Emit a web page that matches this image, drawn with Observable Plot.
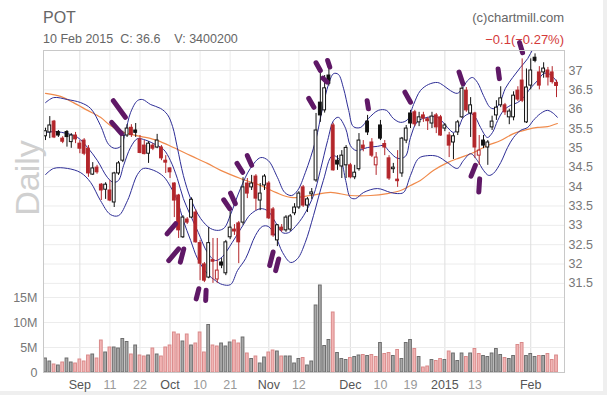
<!DOCTYPE html>
<html><head><meta charset="utf-8">
<script src="https://cdn.jsdelivr.net/npm/d3@7"></script>
<script src="https://cdn.jsdelivr.net/npm/@observablehq/plot@0.6"></script>
<style>
body{margin:0;background:#fff;}
#wrap{position:relative;width:607px;height:395px;background:#efefef;overflow:hidden;font-family:"Liberation Sans",Arial,sans-serif}
#inner{position:absolute;left:0;top:0;width:603px;height:391px;background:#fff}
#wrap svg{position:absolute;left:0;top:0}
.t{position:absolute;white-space:nowrap;color:#666;line-height:1}
</style></head><body>
<div id="wrap"><div id="inner"></div>
<div class="t" style="left:43px;top:10px;font-size:16px">POT</div>
<div class="t" style="left:43px;top:33px;font-size:12.5px">10 Feb 2015&nbsp; C: 36.6 &nbsp;&nbsp; V: 3400200</div>
<div class="t" style="right:43px;top:11px;font-size:13px">(c)chartmill.com</div>
<div class="t" style="right:43px;top:33px;font-size:13px;color:#d43a3a">−0.1(−0.27%)</div>
<div class="t" style="left:27px;top:178px;font-size:34px;color:#d0d0d0;transform:translate(-50%,-50%) rotate(-90deg)">Daily</div>
</div>
<script>
// ---- data ----
const open = [35.30,35.40,35.68,35.41,35.24,35.41,35.15,35.32,35.11,35.19,34.98,34.31,34.49,34.05,33.92,33.90,33.59,34.34,34.67,35.32,35.52,35.45,35.22,35.06,34.85,35.06,35.01,35.01,34.67,34.47,34.08,33.77,32.69,33.15,33.20,33.33,32.54,31.99,31.65,32.10,31.60,32.04,31.76,32.69,32.89,33.05,33.07,34.08,33.98,34.26,33.64,34.03,34.08,33.41,32.61,32.94,32.87,32.89,33.31,33.46,33.98,33.51,33.80,34.16,36.17,35.97,36.87,35.58,34.67,34.52,34.55,34.55,34.24,34.45,35.06,35.68,35.14,34.55,35.58,35.10,34.73,34.45,34.18,34.34,35.19,35.89,35.92,35.66,35.84,35.74,35.63,35.84,35.79,35.50,35.32,35.14,35.40,35.79,36.48,35.89,35.89,34.80,35.19,35.01,35.53,35.84,36.10,36.10,35.79,35.79,36.48,36.74,35.66,36.61,37.33,36.95,36.95,37.00,36.95,36.68];
const high = [35.51,35.81,35.71,35.45,35.29,35.45,35.37,35.40,35.19,35.24,35.06,34.62,34.55,34.08,34.10,34.16,34.37,34.65,35.43,35.60,35.60,35.63,35.32,35.19,35.16,35.11,35.35,35.06,34.80,34.49,34.10,33.80,33.25,33.20,33.71,33.40,32.61,32.04,32.94,32.66,32.66,32.14,32.61,33.46,33.02,33.10,34.23,34.21,34.29,34.31,34.08,34.31,34.13,33.46,33.02,33.02,33.25,33.28,33.56,33.87,34.03,33.72,33.95,35.89,36.93,36.87,37.05,35.64,34.80,34.93,35.06,34.60,34.55,35.37,35.19,35.84,35.24,34.88,35.71,35.19,34.80,34.60,34.93,35.27,35.58,35.97,35.97,35.92,35.92,35.79,35.92,35.89,35.84,35.63,35.40,35.37,35.71,36.61,36.56,36.30,35.92,35.32,35.32,35.19,35.82,36.22,36.58,36.15,36.00,36.45,36.58,37.30,37.04,37.30,37.43,37.10,37.20,37.08,37.10,36.75];
const low = [35.19,35.24,35.24,35.27,35.11,35.02,34.99,35.11,34.85,34.80,34.24,34.29,34.32,33.64,33.67,33.61,33.46,34.29,34.62,35.27,35.27,35.27,34.85,34.82,34.60,34.93,34.98,34.67,34.34,34.21,33.20,32.66,32.66,33.02,33.18,32.54,31.57,31.52,31.62,31.50,31.50,31.88,31.70,32.63,32.74,32.01,33.00,33.69,33.90,33.38,33.38,33.90,33.15,32.69,32.45,32.82,32.82,32.84,33.25,33.41,33.46,33.33,33.67,34.11,35.66,35.90,36.60,34.40,34.42,34.21,34.21,34.20,34.18,34.40,34.90,35.32,34.75,34.29,35.19,34.80,34.16,34.34,33.98,34.24,35.11,35.50,35.55,35.55,35.66,35.45,35.50,35.37,35.30,35.42,34.75,34.70,35.32,35.76,35.92,35.27,34.73,34.55,34.98,34.55,35.45,35.71,36.04,35.84,35.60,35.70,36.20,36.17,35.63,36.50,37.20,36.50,36.80,36.60,36.65,36.30];
const close = [35.43,35.58,35.27,35.32,35.16,35.28,35.32,35.22,34.98,34.85,34.34,34.47,34.37,33.90,34.05,33.64,34.34,34.60,35.32,35.50,35.33,35.39,34.87,34.84,35.11,34.98,35.19,34.73,34.62,34.37,33.64,32.87,33.20,33.07,33.66,32.56,32.01,31.57,32.54,32.06,31.83,31.96,32.56,32.94,32.84,32.56,33.98,33.82,34.08,33.69,33.82,34.26,33.18,32.74,33.00,32.87,33.20,33.23,33.46,33.82,33.51,33.67,33.85,35.45,35.84,36.54,36.66,34.42,34.57,34.80,35.00,34.24,34.36,35.19,34.98,35.40,34.80,34.75,35.24,35.01,34.21,34.49,34.14,35.24,35.50,35.63,35.61,35.79,35.76,35.69,35.81,35.53,35.32,35.58,35.06,35.30,35.66,36.53,35.97,36.10,35.01,34.93,35.06,35.14,35.68,36.04,36.28,35.92,35.94,36.35,36.25,36.22,36.56,37.00,37.25,36.61,37.05,36.82,36.70,36.60];
const volumeM = [2.8,2.2,1.6,1.4,2.0,2.8,2.0,1.8,2.6,2.2,3.4,3.6,2.8,6.4,4.0,5.0,5.0,4.8,6.7,6.1,3.6,5.4,3.4,3.2,3.4,4.8,3.6,3.2,5.0,5.4,8.0,7.6,6.2,7.6,5.4,5.8,8.0,4.0,9.5,5.4,5.2,5.8,5.2,6.0,6.4,5.8,7.0,3.8,2.7,3.2,1.8,3.0,4.0,4.4,4.2,3.2,3.2,3.2,1.8,2.7,2.9,1.4,2.2,13.4,17.4,5.3,6.5,12.0,3.9,2.7,2.5,2.9,3.1,3.4,3.5,3.3,3.5,3.1,5.9,3.7,3.9,3.3,4.5,2.7,5.9,6.5,4.7,3.1,1.0,1.2,2.5,2.3,2.7,2.5,4.2,3.8,2.3,3.8,3.1,3.8,4.7,3.7,3.3,3.1,3.8,4.7,3.5,2.9,2.7,3.3,5.5,5.9,3.3,3.7,3.1,3.3,3.3,3.7,2.5,3.4];

// Bollinger bands and moving average: [trading-day index, price]
const upperBand = [[0,36.17],[1.9,36.30],[5.1,36.25],[8.2,36.17],[10.5,36.02],[12.8,35.58],[14.7,35.09],[16.1,34.99],[17.5,35.04],[18.6,35.40],[19.8,35.91],[21.4,36.22],[22.6,36.25],[24.5,36.12],[26.8,36.02],[28.4,35.86],[29.6,35.55],[30.7,35.01],[32.1,34.29],[33.8,33.69],[36.1,33.18],[38.4,32.92],[40.3,32.87],[41.7,32.94],[43.1,33.28],[45.4,33.95],[47.7,34.47],[50.1,34.75],[51.9,34.67],[54.0,34.24],[55.7,33.85],[57.3,33.77],[58.7,33.90],[60.5,34.36],[62.9,35.19],[64.5,36.02],[65.9,36.64],[67.1,36.92],[68.2,36.90],[69.4,36.54],[70.6,35.97],[71.7,35.55],[73.4,35.53],[75.2,35.76],[77.5,35.97],[79.4,35.97],[81.0,35.76],[82.7,35.66],[84.3,35.73],[85.7,36.12],[87.3,36.48],[89.2,36.64],[91.3,36.69],[92.7,36.61],[94.3,36.48],[95.9,36.41],[97.1,36.54],[98.3,36.74],[99.4,36.82],[100.6,36.69],[102.0,36.35],[103.6,36.04],[104.8,36.02],[106.0,36.22],[107.1,36.54],[108.8,36.82],[110.6,37.08],[112.3,37.31],[113.6,37.57],[115.3,37.78],[117,37.92],[119.2,38.03]];
const middleBand = [[0,35.40],[2.3,35.42],[5.1,35.37],[7.5,35.27],[9.8,35.01],[12.1,34.67],[14.4,34.24],[15.8,34.11],[17.0,34.16],[18.2,34.55],[19.8,35.01],[21.4,35.24],[22.8,35.22],[25.2,35.11],[27.5,34.96],[29.1,34.67],[30.7,34.21],[32.1,33.69],[33.8,33.25],[35.6,32.81],[37.7,32.30],[39.6,32.09],[41.2,32.19],[43.5,32.56],[46.1,33.02],[47.7,33.28],[50.1,33.43],[51.9,33.36],[53.6,33.07],[55.2,32.81],[56.6,32.81],[58.2,32.97],[60.1,33.25],[62.4,33.77],[64.0,34.42],[65.7,35.19],[67.1,35.71],[68.2,35.79],[69.9,35.50],[71.0,35.06],[72.4,34.93],[75.0,35.01],[77.3,35.04],[78.7,35.06],[80.3,34.88],[82.0,34.73],[83.8,34.78],[85.0,35.27],[86.6,35.68],[89.0,35.79],[91.3,35.79],[93.6,35.53],[95.0,35.40],[96.2,35.53],[97.3,35.79],[99.0,35.89],[100.1,35.79],[101.3,35.53],[102.9,35.27],[104.1,35.40],[105.3,35.71],[106.7,35.97],[108.3,36.10],[109.9,36.17],[111.3,36.30],[112.9,36.54],[114.6,36.74],[116.0,36.92],[117.1,36.92],[118.3,36.82],[119.2,36.69]];
const lowerBand = [[0,34.31],[1.9,34.47],[5.1,34.47],[8.2,34.36],[10.5,34.11],[12.8,33.64],[15.1,33.28],[17.0,33.25],[19.1,33.64],[21.4,34.31],[22.8,34.47],[25.2,34.42],[27.5,34.26],[29.1,34.00],[30.7,33.64],[32.1,33.12],[33.8,32.61],[35.4,32.14],[37.7,31.75],[39.6,31.57],[41.2,31.47],[43.1,31.47],[44.7,31.83],[46.6,32.14],[48.9,32.74],[50.5,32.97],[51.9,32.97],[53.6,32.71],[55.2,32.30],[57.1,32.04],[58.7,32.14],[60.5,32.56],[62.4,33.25],[64.7,34.16],[66.8,34.80],[68.7,34.67],[69.9,34.16],[71.0,33.72],[72.2,33.69],[74.1,33.85],[77.3,33.95],[80.3,33.85],[82.0,33.82],[83.4,33.85],[85.0,34.29],[86.9,34.73],[89.0,34.80],[91.3,34.78],[93.6,34.62],[95.9,34.47],[97.3,34.67],[99.0,34.85],[100.6,34.67],[102.0,34.42],[103.2,34.29],[104.3,34.34],[106.0,34.62],[107.6,35.01],[109.0,35.27],[110.6,35.45],[112.3,35.53],[113.6,35.71],[115.3,35.89],[116.9,35.97],[118.3,35.89],[119.2,35.79]];
const movingAvg = [[0,36.41],[3.5,36.33],[6.5,36.17],[9.8,35.97],[12.8,35.79],[15.1,35.58],[18.2,35.40],[22.1,35.30],[26.1,35.19],[29.8,35.01],[33.8,34.80],[37.7,34.60],[40.8,34.42],[45.4,34.21],[50.1,34.03],[53.6,33.85],[57.1,33.72],[61.7,33.77],[66.4,33.85],[71.0,33.77],[75.7,33.77],[79.6,33.82],[82.7,33.90],[85.0,34.03],[87.3,34.16],[90.4,34.42],[93.6,34.62],[96.6,34.75],[99.7,34.88],[102.9,35.06],[106.0,35.19],[109.0,35.37],[112.3,35.48],[114.6,35.53],[116.9,35.55],[119.2,35.63]];
// signal markers: [index1, price1, index2, price2]
const signals = [[15.8,36.22,18.6,35.79],[15.4,35.66,17.7,35.37],[47.0,34.80,48.0,34.55],[44.6,34.60,45.9,34.37],[43.1,33.83,44.2,33.56],[41.5,33.66,42.9,33.43],[30.3,33.04,28.3,32.78],[31.0,32.39,28.7,32.09],[32.2,32.39,31.4,32.05],[35.7,31.36,35.1,31.10],[37.4,31.32,37.3,31.06],[53.0,32.31,52.2,31.96],[54.3,32.13,53.6,31.83],[61.3,36.28,62.5,36.05],[63.0,37.20,64.0,37.00],[64.6,36.80,65.6,36.70],[65.7,37.26,66.2,37.09],[74.9,36.22,75.2,36.01],[83.7,36.44,85.0,36.18],[96.3,36.96,97.2,36.66],[105.4,37.04,105.7,36.79],[100.1,34.55,99.1,34.27],[101.1,34.20,100.9,33.86],[110.4,37.72,111.1,37.46]];
const priceTicks = [31.5,32,32.5,33,33.5,34,34.5,35,35.5,36,36.5,37];
const volumeTicks = [0,5,10,15];
const volumeTickLabels = ["0","5M","10M","15M"];
const dateTickIdx = [8,15,22,29,36,43,52,59,71,78,85,93,100,113];
const dateTickLabels = ["Sep","11","22","Oct","10","21","Nov","12","Dec","10","19","2015","13","Feb"];
const dateTickMajor = [true,false,false,true,false,false,true,false,true,false,false,true,false,true];

// ---- build ----
const candles = open.map((o,i)=>({i,o,h:high[i],l:low[i],c:close[i],v:volumeM[i],up:i===0||close[i]>=close[i-1]}));
const dticks = dateTickIdx.map((d,k)=>({i:d,label:dateTickLabels[k],major:dateTickMajor[k]}));
const RED="#b3262b", BLK="#111";
const common = {width:607,height:395,marginTop:50,marginBottom:23,marginLeft:43,marginRight:43,
  x:{domain:[-0.466,120.86],axis:null},
  style:{background:"transparent",fontFamily:"Liberation Sans, Arial, sans-serif",fontSize:"12px",overflow:"visible"}};
const yPrice = {domain:[29.197,37.517],axis:null};

const layer1 = Plot.plot({...common, y:yPrice, marks:[
  Plot.ruleY(priceTicks,{stroke:"#ececec"}),
  Plot.ruleX(dticks,{x:"i",stroke:d=>d.major?"#dedede":"#ececec"}),
  Plot.text(dticks,{x:"i",text:"label",frameAnchor:"bottom",dy:12,lineAnchor:"middle",fill:d=>d.major?"#555":"#999",fontSize:12.5}),
  Plot.axisY({anchor:"right",ticks:priceTicks,tickSize:0,tickPadding:4,tickFormat:d=>String(d),fill:"#777",fontSize:12.5,label:null})
]});
const layer2 = Plot.plot({...common, y:{domain:[0,64.4],axis:null}, marks:[
  Plot.ruleY(volumeTicks.slice(1),{stroke:"#ececec"}),
  Plot.rect(candles,{x1:d=>d.i-0.32,x2:d=>d.i+0.32,y1:0,y2:"v",fill:d=>d.up?"#a9a9a9":"#f2b5b5",stroke:d=>d.up?"#6e6e6e":"#d98a8a",strokeWidth:1}),
  Plot.axisY({anchor:"left",ticks:volumeTicks,tickSize:0,tickPadding:6,tickFormat:(d,k)=>volumeTickLabels[volumeTicks.indexOf(d)],fill:"#777",fontSize:12.5,label:null})
]});
const bandStyle = {x:d=>d[0],y:d=>d[1],stroke:"#2d2d96",strokeWidth:1,curve:"catmull-rom",clip:true};
const layer3 = Plot.plot({...common, y:yPrice, marks:[
  Plot.line(movingAvg,{x:d=>d[0],y:d=>d[1],stroke:"#f08a4b",strokeWidth:1.2,curve:"catmull-rom",clip:true}),
  Plot.line(upperBand,bandStyle),
  Plot.line(middleBand,bandStyle),
  Plot.line(lowerBand,bandStyle),
  Plot.ruleX(candles,{x:"i",y1:"l",y2:"h",stroke:d=>d.up?BLK:RED,strokeWidth:1}),
  Plot.rect(candles,{x1:d=>d.i-0.33,x2:d=>d.i+0.33,y1:"o",y2:"c",fill:d=>d.c<d.o?(d.up?BLK:RED):"#fff",stroke:d=>d.up?BLK:RED,strokeWidth:1}),
  Plot.link(signals,{x1:d=>d[0],y1:d=>d[1],x2:d=>d[2],y2:d=>d[3],stroke:"#5f1866",strokeWidth:5,strokeLinecap:"round"}),
  Plot.frame({stroke:"#c8c8c8"})
]});
const wrap=document.getElementById("wrap");
const hdr=[...wrap.querySelectorAll(".t")];
wrap.insertBefore(layer1,hdr[0]);
wrap.insertBefore(layer2,hdr[0]);
wrap.insertBefore(layer3,hdr[0]);
</script>
</body></html>
